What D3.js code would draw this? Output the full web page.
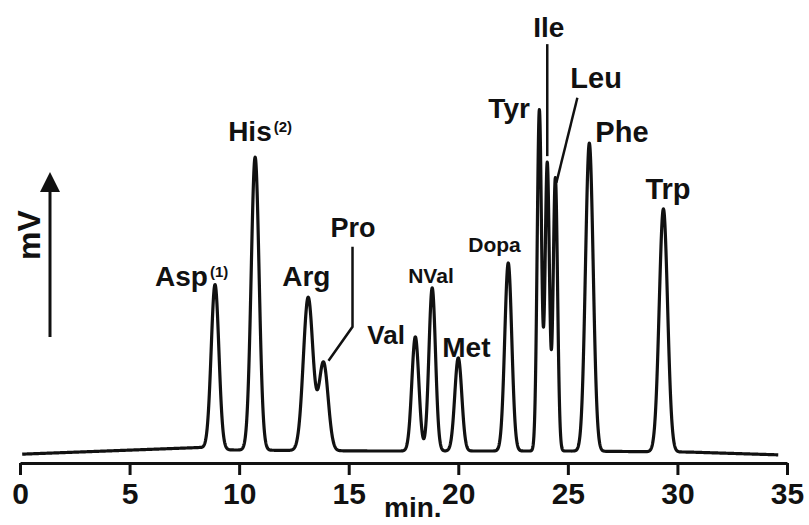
<!DOCTYPE html>
<html>
<head>
<meta charset="utf-8">
<script src="https://cdn.jsdelivr.net/npm/d3@7"></script>
<style>
  html, body { margin: 0; padding: 0; background: #fff; }
  svg { display: block; }
  text { font-family: "Liberation Sans", Arial, Helvetica, sans-serif; font-weight: bold; fill: #111; }
</style>
</head>
<body>
<svg id="chart" width="809" height="525"></svg>
<script>
// ---- data ----
const peakNames   = ["Asp", "His", "Arg", "Pro", "Val", "NVal", "Met", "Dopa", "Tyr", "Ile", "Leu", "Phe", "Trp"];
const peakTimes   = [8.9, 10.73, 13.15, 13.85, 18.04, 18.81, 20.0, 22.28, 23.7, 24.06, 24.43, 25.98, 29.36];
const peakHeights = [46.9, 83.7, 43.7, 25.1, 32.6, 46.6, 26.6, 53.7, 97.4, 82.3, 78.0, 88.0, 69.4];
const peakWidths  = [0.175, 0.18, 0.22, 0.21, 0.16, 0.15, 0.16, 0.16, 0.1, 0.1, 0.1, 0.175, 0.19];
const superscripts = {"Asp": "(1)", "His": "(2)"};
const baseTimes   = [0.1, 8.2, 9.6, 16, 25, 30.5, 34.6];
const baseValues  = [-0.9, 1.0, 0.3, 0, 0, -0.3, -1.1];
const xTicks      = [0, 5, 10, 15, 20, 25, 30, 35];
const xLabel = "min.";
const yLabel = "mV";

// ---- layout ----
const svg = d3.select("#chart");
const x = d3.scaleLinear().domain([0, 35]).range([20, 787]);
const y = d3.scaleLinear().domain([0, 100]).range([451, 101]);
const axisY = 463;

// label offsets from apex [dx, dy] and font sizes
const labelLayout = {
  Asp:  {dx: -60, dy: 1,    size: 28},
  His:  {dx: -27, dy: -16,  size: 28},
  Arg:  {dx: -26, dy: -11,  size: 28},
  Pro:  {dx: 7,   dy: -125, size: 27},
  Val:  {dx: -48, dy: 7,    size: 26},
  NVal: {dx: -24, dy: -5,   size: 21},
  Met:  {dx: -16, dy: -1,   size: 28},
  Dopa: {dx: -40, dy: -11,  size: 21},
  Tyr:  {dx: -51, dy: 8,    size: 28},
  Ile:  {dx: -14, dy: -125, size: 28},
  Leu:  {dx: 15,  dy: -90,  size: 29},
  Phe:  {dx: 6,   dy: -1,   size: 29},
  Trp:  {dx: -18, dy: -10,  size: 29}
};
// leader lines, as offsets from apex
const leaders = {
  Pro: [[29, -115], [29, -35], [5, -1]],
  Ile: [[0, -118], [0, -6]],
  Leu: [[22, -80], [1, 5]]
};

// ---- trace ----
const baseline = d3.scaleLinear().domain(baseTimes).range(baseValues);
function signal(t) {
  let v = baseline(t);
  for (let i = 0; i < peakTimes.length; i++) {
    const z = (t - peakTimes[i]) / peakWidths[i];
    v += peakHeights[i] * Math.exp(-0.5 * z * z);
  }
  return v;
}
const ts = d3.range(baseTimes[0], baseTimes[baseTimes.length - 1] + 1e-9, 0.01);
const allT = ts.concat(peakTimes).sort((a, b) => a - b);
const trace = allT.map(t => [t, signal(t)]);

svg.append("path")
  .datum(trace)
  .attr("fill", "none")
  .attr("stroke", "#111")
  .attr("stroke-width", 3.2)
  .attr("stroke-linejoin", "round")
  .attr("d", d3.line().x(d => x(d[0])).y(d => y(d[1])));

// ---- x axis ----
const axis = svg.append("g")
  .attr("transform", `translate(0,${axisY})`)
  .call(d3.axisBottom(x).tickValues(xTicks).tickSize(12).tickSizeOuter(0).tickFormat(d3.format("d")));
axis.select(".domain").attr("stroke", "#111").attr("stroke-width", 3);
axis.selectAll(".tick line").attr("stroke", "#111").attr("stroke-width", 3);
axis.selectAll(".tick text")
  .attr("y", 41).attr("dy", 0)
  .attr("fill", "#111")
  .style("font-family", '"Liberation Sans", Arial, sans-serif')
  .style("font-weight", "bold")
  .style("font-size", "30px");

svg.append("text")
  .attr("x", 384).attr("y", 517)
  .style("font-size", "28px")
  .text(xLabel);

// ---- y arrow ----
svg.append("line")
  .attr("x1", 50).attr("x2", 50).attr("y1", 337).attr("y2", 188)
  .attr("stroke", "#111").attr("stroke-width", 3);
svg.append("path")
  .attr("d", "M40,192L50,172L60,192Z")
  .attr("fill", "#111");
svg.append("text")
  .attr("transform", "translate(40,260) rotate(-90)")
  .style("font-size", "32px")
  .text(yLabel);

// ---- peak labels ----
peakNames.forEach((name, i) => {
  const ax = x(peakTimes[i]);
  const ay = y(signal(peakTimes[i]));
  const L = labelLayout[name];
  const t = svg.append("text")
    .attr("x", ax + L.dx).attr("y", ay + L.dy)
    .style("font-size", L.size + "px")
    .text(name);
  if (superscripts[name]) {
    t.append("tspan")
      .attr("dy", -9)
      .attr("dx", 2)
      .style("font-size", "15px")
      .text(superscripts[name]);
  }
  if (leaders[name]) {
    svg.append("path")
      .attr("d", d3.line()(leaders[name].map(p => [ax + p[0], ay + p[1]])))
      .attr("fill", "none")
      .attr("stroke", "#111")
      .attr("stroke-width", 2.5);
  }
});
</script>
</body>
</html>
